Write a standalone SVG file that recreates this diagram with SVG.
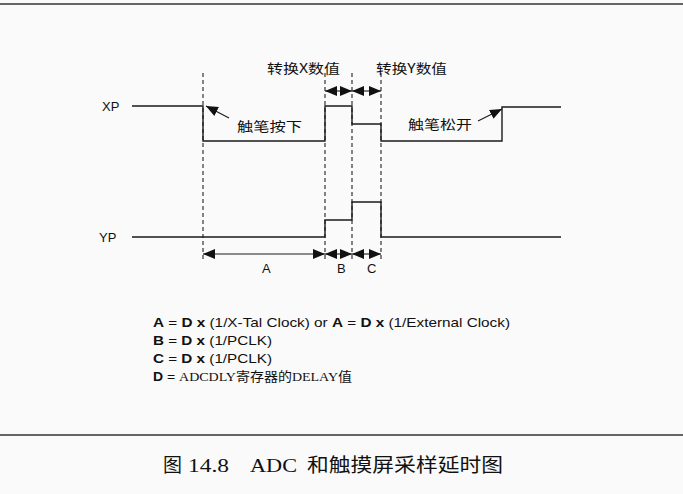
<svg xmlns="http://www.w3.org/2000/svg" width="683" height="494" viewBox="0 0 683 494">
<style>
.bg{fill:#fafafa}
.rule{stroke:#333;stroke-width:1.6;fill:none}
.sig{stroke:#1a1a1a;stroke-width:1.4;fill:none}
.dash{stroke:#222;stroke-width:1.1;stroke-dasharray:4 3;fill:none}
.dim{stroke:#1a1a1a;stroke-width:1.1;fill:none}
.lbl{font-family:"Liberation Sans",Arial,sans-serif;font-size:13px;fill:#111}
.cjk{font-family:"Noto Sans CJK SC","Noto Sans",sans-serif;font-size:13px;fill:#111}
.leg{font-family:"Liberation Sans",Arial,sans-serif;font-size:13px;fill:#111}
.b{font-weight:bold}
.cap{font-family:"Liberation Serif","Noto Sans CJK SC",serif;font-size:19px;fill:#111}
</style>
<defs>
<marker id="ah" markerUnits="userSpaceOnUse" markerWidth="13" markerHeight="11" refX="12" refY="5" orient="auto-start-reverse">
<path d="M0,0 L12,5 L0,10 z" fill="#111"/>
</marker>
</defs>
<rect class="bg" x="0" y="0" width="683" height="494"/>
<line class="rule" x1="0" y1="4" x2="683" y2="4"/>
<line class="rule" x1="0" y1="435" x2="683" y2="435"/>

<g id="guides">
<line class="dash" x1="203" y1="73" x2="203" y2="262"/>
<line class="dash" x1="325" y1="73" x2="325" y2="262"/>
<line class="dash" x1="352" y1="73" x2="352" y2="262"/>
<line class="dash" x1="381" y1="73" x2="381" y2="262"/>
</g>

<g id="xp">
<text class="lbl" x="102" y="111">XP</text>
<polyline class="sig" points="132,106 203,106 203,141 325,141 325,106 352,106 352,124 381,124 381,141 502,141 502,107 561,107"/>
</g>

<g id="yp">
<text class="lbl" x="99" y="242">YP</text>
<polyline class="sig" points="132,237 325,237 325,220 352,220 352,202 381,202 381,237 561,237"/>
</g>

<g id="labels">
<text class="cjk" x="267" y="73" textLength="73" lengthAdjust="spacingAndGlyphs">转换X数值</text>
<text class="cjk" x="376" y="73" textLength="71" lengthAdjust="spacingAndGlyphs">转换Y数值</text>
<text class="cjk" x="237" y="131" font-size="15" textLength="65" lengthAdjust="spacingAndGlyphs">触笔按下</text>
<text class="cjk" x="408" y="129" font-size="15" textLength="64" lengthAdjust="spacingAndGlyphs">触笔松开</text>
<text class="lbl" x="262" y="273">A</text>
<text class="lbl" x="337" y="273">B</text>
<text class="lbl" x="367" y="273">C</text>
</g>

<g id="connectors">
<line class="dim" x1="325" y1="91" x2="352" y2="91" marker-start="url(#ah)" marker-end="url(#ah)"/>
<line class="dim" x1="352" y1="91" x2="381" y2="91" marker-start="url(#ah)" marker-end="url(#ah)"/>
<line class="dim" x1="203" y1="254" x2="325" y2="254" marker-start="url(#ah)" marker-end="url(#ah)"/>
<line class="dim" x1="325" y1="254" x2="352" y2="254" marker-start="url(#ah)" marker-end="url(#ah)"/>
<line class="dim" x1="352" y1="254" x2="381" y2="254" marker-start="url(#ah)" marker-end="url(#ah)"/>
<line class="dim" x1="229" y1="118" x2="206" y2="106" marker-end="url(#ah)"/>
<line class="dim" x1="478" y1="121" x2="502" y2="109" marker-end="url(#ah)"/>
</g>

<g id="legend">
<text class="leg" x="153" y="327" textLength="357" lengthAdjust="spacingAndGlyphs"><tspan class="b">A</tspan> = <tspan class="b">D x</tspan> (1/X-Tal Clock) or <tspan class="b">A</tspan> = <tspan class="b">D x</tspan> (1/External Clock)</text>
<text class="leg" x="153" y="345" textLength="119" lengthAdjust="spacingAndGlyphs"><tspan class="b">B</tspan> = <tspan class="b">D x</tspan> (1/PCLK)</text>
<text class="leg" x="153" y="363" textLength="119" lengthAdjust="spacingAndGlyphs"><tspan class="b">C</tspan> = <tspan class="b">D x</tspan> (1/PCLK)</text>
<text class="leg" x="153" y="381" textLength="199" lengthAdjust="spacingAndGlyphs"><tspan class="b">D</tspan> = <tspan font-family="'Liberation Serif','Noto Sans CJK SC',serif" font-size="13">ADCDLY寄存器的DELAY值</tspan></text>
</g>

<g id="caption">
<text class="cap" x="163" y="472" font-size="18">图</text>
<text class="cap" x="188" y="472" textLength="41" lengthAdjust="spacingAndGlyphs">14.8</text>
<text class="cap" x="250" y="472" textLength="47" lengthAdjust="spacingAndGlyphs">ADC</text>
<text class="cap" x="307" y="472" textLength="196" lengthAdjust="spacingAndGlyphs">和触摸屏采样延时图</text>
</g>
</svg>
